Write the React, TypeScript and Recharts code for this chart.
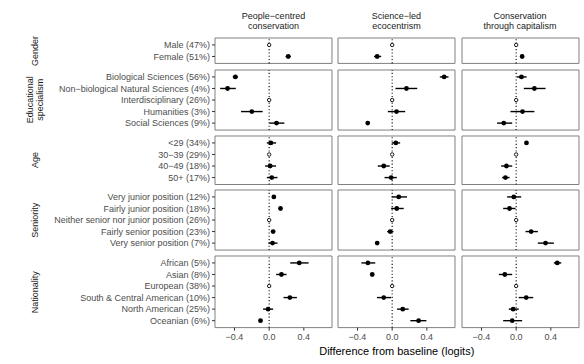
import React from "react";
import {
  ComposedChart,
  Scatter,
  XAxis,
  YAxis,
  ReferenceLine,
  ReferenceArea,
  ErrorBar,
} from "recharts";

// ---------- data ----------
const modelNames = [
  ["People−centred", "conservation"],
  ["Science−led", "ecocentrism"],
  ["Conservation", "through capitalism"],
];

const groupNames = [["Gender"], ["Educational", "specialism"], ["Age"], ["Seniority"], ["Nationality"]];

const genderLabels = ["Male (47%)", "Female (51%)"];
const eduLabels = [
  "Biological Sciences (56%)",
  "Non−biological Natural Sciences (4%)",
  "Interdisciplinary (26%)",
  "Humanities (3%)",
  "Social Sciences (9%)",
];
const ageLabels = ["<29 (34%)", "30−39 (29%)", "40−49 (18%)", "50+ (17%)"];
const seniorityLabels = [
  "Very junior position (12%)",
  "Fairly junior position (18%)",
  "Neither senior nor junior position (26%)",
  "Fairly senior position (23%)",
  "Very senior position (7%)",
];
const nationalityLabels = [
  "African (5%)",
  "Asian (8%)",
  "European (38%)",
  "South & Central American (10%)",
  "North American (25%)",
  "Oceanian (6%)",
];

// index of the baseline (reference) category in each group
const baselineIndex = [0, 2, 1, 2, 2];

// People-centred conservation: estimate, lower, upper (baseline = 0)
const pcGenderEst = [0, 0.22];
const pcGenderLo = [0, 0.19];
const pcGenderHi = [0, 0.25];
const pcEduEst = [-0.39, -0.48, 0, -0.2, 0.085];
const pcEduLo = [-0.42, -0.565, 0, -0.325, 0.005];
const pcEduHi = [-0.36, -0.385, 0, -0.075, 0.175];
const pcAgeEst = [0.02, 0, 0.012, 0.03];
const pcAgeLo = [-0.027, 0, -0.046, -0.027];
const pcAgeHi = [0.08, 0, 0.08, 0.096];
const pcSenEst = [0.054, 0.131, 0, 0.046, 0.039];
const pcSenLo = [0.044, 0.121, 0, 0.036, -0.008];
const pcSenHi = [0.064, 0.141, 0, 0.056, 0.096];
const pcNatEst = [0.347, 0.142, 0, 0.239, -0.012, -0.1];
const pcNatLo = [0.243, 0.08, 0, 0.166, -0.07, -0.11];
const pcNatHi = [0.455, 0.2, 0, 0.32, 0.046, -0.09];

// Science-led ecocentrism
const slGenderEst = [0, -0.173];
const slGenderLo = [0, -0.21];
const slGenderHi = [0, -0.127];
const slEduEst = [0.6, 0.165, 0, 0.05, -0.282];
const slEduLo = [0.55, 0.038, 0, -0.05, -0.292];
const slEduHi = [0.65, 0.289, 0, 0.15, -0.272];
const slAgeEst = [0.042, 0, -0.097, -0.012];
const slAgeLo = [-0.005, 0, -0.166, -0.088];
const slAgeHi = [0.092, 0, -0.028, 0.053];
const slSenEst = [0.076, 0.053, 0, -0.023, -0.173];
const slSenLo = [-0.005, -0.012, 0, -0.057, -0.183];
const slSenHi = [0.171, 0.133, 0, 0.015, -0.163];
const slNatEst = [-0.28, -0.23, 0, -0.097, 0.122, 0.305];
const slNatLo = [-0.355, -0.24, 0, -0.176, 0.057, 0.21];
const slNatHi = [-0.195, -0.22, 0, -0.012, 0.19, 0.395];

// Conservation through capitalism
const ccGenderEst = [0, 0.069];
const ccGenderLo = [0, 0.059];
const ccGenderHi = [0, 0.079];
const ccEduEst = [0.061, 0.21, 0, 0.073, -0.143];
const ccEduLo = [0.01, 0.088, 0, -0.066, -0.22];
const ccEduHi = [0.12, 0.339, 0, 0.21, -0.046];
const ccAgeEst = [0.119, 0, -0.112, -0.124];
const ccAgeLo = [0.109, 0, -0.173, -0.162];
const ccAgeHi = [0.129, 0, -0.046, -0.077];
const ccSenEst = [-0.027, -0.077, 0, 0.173, 0.339];
const ccSenLo = [-0.104, -0.15, 0, 0.108, 0.25];
const ccSenHi = [0.058, -0.008, 0, 0.25, 0.435];
const ccNatEst = [0.474, -0.131, 0, 0.116, -0.035, -0.046];
const ccNatLo = [0.435, -0.2, 0, 0.03, -0.085, -0.15];
const ccNatHi = [0.52, -0.046, 0, 0.197, 0.03, 0.069];

const xTicks = [-0.4, 0, 0.4];
const xAxisTitle = "Difference from baseline (logits)";

// ---------- assembled tables ----------
const groupLabels = [genderLabels, eduLabels, ageLabels, seniorityLabels, nationalityLabels];
const estimates = [
  [
    [pcGenderEst, pcGenderLo, pcGenderHi],
    [pcEduEst, pcEduLo, pcEduHi],
    [pcAgeEst, pcAgeLo, pcAgeHi],
    [pcSenEst, pcSenLo, pcSenHi],
    [pcNatEst, pcNatLo, pcNatHi],
  ],
  [
    [slGenderEst, slGenderLo, slGenderHi],
    [slEduEst, slEduLo, slEduHi],
    [slAgeEst, slAgeLo, slAgeHi],
    [slSenEst, slSenLo, slSenHi],
    [slNatEst, slNatLo, slNatHi],
  ],
  [
    [ccGenderEst, ccGenderLo, ccGenderHi],
    [ccEduEst, ccEduLo, ccEduHi],
    [ccAgeEst, ccAgeLo, ccAgeHi],
    [ccSenEst, ccSenLo, ccSenHi],
    [ccNatEst, ccNatLo, ccNatHi],
  ],
];

// ---------- layout ----------
const FONT = "'Liberation Sans', Arial, Helvetica, sans-serif";
const X_DOMAIN: [number, number] = [-0.625, 0.725];
const COL_LEFT = [215, 338, 461.5];
const PANEL_W = 117;
const ROW_START = 38.3;
const STEP = 11.55;
const GAP = 6;
const Y_AXIS_W = 170;
const X_AXIS_H = 20;

const rowTops: number[] = [];
const rowHeights: number[] = [];
{
  let t = ROW_START;
  groupLabels.forEach((l) => {
    const h = (l.length + 0.2) * STEP;
    rowTops.push(t);
    rowHeights.push(h);
    t += h + GAP;
  });
}

const filledDot = (p: any) => <circle cx={p.cx} cy={p.cy} r={2.4} fill="#000" />;
const openDot = (p: any) => (
  <circle cx={p.cx} cy={p.cy} r={1.7} fill="#fff" stroke="#000" strokeWidth={0.9} />
);

function Panel({ col, row }: { col: number; row: number }) {
  const labels = groupLabels[row];
  const [est, lo, hi] = estimates[col][row];
  const base = baselineIndex[row];
  const n = labels.length;
  const estData: any[] = [];
  const baseData: any[] = [];
  labels.forEach((_, i) => {
    if (i === base) baseData.push({ pos: i, est: est[i] });
    else estData.push({ pos: i, est: est[i], err: [est[i] - lo[i], hi[i] - est[i]] });
  });
  const showY = col === 0;
  const showX = row === groupLabels.length - 1;
  const yW = showY ? Y_AXIS_W : 0;
  const xH = showX ? X_AXIS_H : 0;
  const h = rowHeights[row];
  const yDomain: [number, number] = [-0.6, n - 0.4];
  const yTick = (p: any) => (
    <text
      x={p.x}
      y={p.y}
      dy="0.34em"
      textAnchor="end"
      fontSize={9}
      fill="#4D4D4D"
      fontFamily={FONT}
    >
      {labels[p.payload.value]}
    </text>
  );
  return (
    <div style={{ position: "absolute", left: COL_LEFT[col] - 1 - yW, top: rowTops[row] - 1 }}>
      <ComposedChart
        width={yW + PANEL_W + 2}
        height={h + xH + 2}
        margin={{ top: 1, right: 1, bottom: 1, left: 1 }}
      >
        <XAxis
          type="number"
          dataKey="est"
          domain={X_DOMAIN}
          ticks={xTicks}
          allowDataOverflow
          hide={!showX}
          height={xH}
          axisLine={false}
          tickSize={3}
          tickMargin={3}
          tickLine={{ stroke: "#333" }}
          tick={{ fontSize: 9, fill: "#4D4D4D", fontFamily: FONT }}
          tickFormatter={(v: number) => v.toFixed(1).replace("-", "−")}
          interval={0}
        />
        <YAxis
          type="number"
          dataKey="pos"
          domain={yDomain}
          ticks={labels.map((_, i) => i)}
          reversed
          allowDataOverflow
          hide={!showY}
          width={yW}
          axisLine={false}
          tickSize={3}
          tickMargin={2}
          tickLine={{ stroke: "#333" }}
          tick={yTick}
          interval={0}
        />
        <ReferenceArea
          x1={X_DOMAIN[0]}
          x2={X_DOMAIN[1]}
          y1={yDomain[0]}
          y2={yDomain[1]}
          fill="#fff"
          fillOpacity={0}
          stroke="#7f7f7f"
          strokeWidth={1}
        />
        <ReferenceLine x={0} stroke="#000" strokeWidth={1.1} strokeDasharray="1.1 2.2" />
        <Scatter data={estData} dataKey="est" shape={filledDot} isAnimationActive={false}>
          <ErrorBar
            dataKey="err"
            direction="x"
            width={0}
            stroke="#000"
            strokeWidth={1.4}
            isAnimationActive={false}
          />
        </Scatter>
        <Scatter data={baseData} dataKey="est" shape={openDot} isAnimationActive={false} />
      </ComposedChart>
    </div>
  );
}

export default function App() {
  const colCenters = COL_LEFT.map((l) => l + PANEL_W / 2);
  const plotLeft = COL_LEFT[0];
  const plotRight = COL_LEFT[2] + PANEL_W;
  return (
    <div
      style={{
        position: "absolute",
        left: 0,
        top: 0,
        width: 584,
        height: 364,
        background: "#fff",
        fontFamily: FONT,
        overflow: "hidden",
      }}
    >
      <svg width={584} height={364} style={{ position: "absolute", left: 0, top: 0 }}>
        {modelNames.map((lines, c) =>
          lines.map((t, k) => (
            <text
              key={`m${c}${k}`}
              x={colCenters[c]}
              y={19.2 + k * 9.8}
              textAnchor="middle"
              fontSize={9}
              fill="#1A1A1A"
              fontFamily={FONT}
            >
              {t}
            </text>
          ))
        )}
        {groupNames.map((lines, r) => {
          const cy = rowTops[r] + rowHeights[r] / 2;
          return lines.map((t, k) => {
            const x = 34.5 + (k - (lines.length - 1) / 2) * 10 + 3.2;
            return (
              <text
                key={`g${r}${k}`}
                x={x}
                y={cy}
                transform={`rotate(-90 ${x} ${cy})`}
                textAnchor="middle"
                fontSize={9}
                fill="#1A1A1A"
                fontFamily={FONT}
              >
                {t}
              </text>
            );
          });
        })}
        <text
          x={(plotLeft + plotRight) / 2}
          y={355}
          textAnchor="middle"
          fontSize={11}
          fill="#000"
          fontFamily={FONT}
        >
          {xAxisTitle}
        </text>
      </svg>
      {[0, 1, 2].map((c) => groupLabels.map((_, r) => <Panel key={`${c}-${r}`} col={c} row={r} />))}
    </div>
  );
}
